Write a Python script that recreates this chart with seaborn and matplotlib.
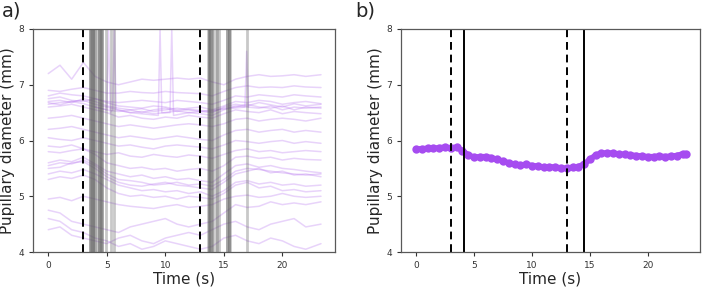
import numpy as np
import pandas as pd
import seaborn as sns
import matplotlib
matplotlib.use("Agg")
import matplotlib.pyplot as plt

# sample times (s) of the individual trials in panel a
time_a = [0, 1, 2, 3, 4, 5, 6, 7, 8, 9, 10, 11, 12, 13, 14, 15, 16, 17, 18, 19, 20, 21, 22, 23.3]

trials = {
    "t1": [6.70, 6.72, 6.68, 6.75, 6.70, 6.62, 6.58, 6.55, 6.57, 6.52, 6.55, 6.58, 6.55, 6.52, 6.50, 6.60, 6.65, 6.62, 6.68, 6.64, 6.60, 6.66, 6.62, 6.65],
    "t2": [6.65, 6.68, 6.70, 6.72, 6.65, 6.60, 6.55, 6.50, 6.52, 6.48, 6.50, 6.53, 6.50, 6.48, 6.45, 6.55, 6.62, 6.60, 6.58, 6.62, 6.55, 6.60, 6.58, 6.60],
    "t3": [6.75, 6.78, 6.72, 6.70, 6.75, 6.68, 6.62, 6.60, 6.58, 6.62, 6.60, 6.55, 6.58, 6.60, 6.55, 6.62, 6.70, 6.68, 6.72, 6.70, 6.65, 6.68, 6.70, 6.66],
    "t4": [6.60, 6.62, 6.65, 6.60, 6.55, 6.50, 6.42, 6.45, 6.40, 6.38, 6.42, 6.40, 6.45, 6.42, 6.40, 6.48, 6.55, 6.52, 6.50, 6.55, 6.48, 6.52, 6.50, 6.48],
    "t5": [6.68, 6.64, 6.70, 6.66, 6.60, 6.55, 6.52, 6.55, 6.50, 6.55, 6.58, 6.52, 6.56, 6.54, 6.52, 6.58, 6.60, 6.65, 6.60, 6.58, 6.62, 6.55, 6.60, 6.58],
    "t6": [7.20, 7.35, 7.10, 7.40, 7.15, 7.05, 7.00, 7.05, 7.10, 7.08, 7.10, 7.12, 7.10, 7.12, 7.05, 7.00, 7.10, 7.15, 7.18, 7.15, 7.16, 7.18, 7.15, 7.18],
    "t7": [6.90, 6.88, 6.92, 6.95, 6.90, 6.85, 6.85, 6.88, 6.86, 6.85, 6.88, 6.86, 6.85, 6.84, 6.80, 6.88, 6.95, 6.98, 6.95, 6.96, 6.95, 6.98, 6.96, 6.95],
    "t8": [6.40, 6.42, 6.45, 6.40, 6.35, 6.30, 6.25, 6.28, 6.25, 6.22, 6.25, 6.28, 6.30, 6.28, 6.25, 6.30, 6.38, 6.40, 6.35, 6.38, 6.40, 6.38, 6.35, 6.40],
    "t9": [6.05, 6.02, 6.00, 6.05, 6.00, 5.95, 5.90, 5.92, 5.88, 5.85, 5.90, 5.92, 5.90, 5.88, 5.85, 5.92, 6.00, 5.98, 5.95, 5.98, 6.00, 5.95, 5.98, 5.95],
    "t10": [5.90, 5.88, 5.92, 5.85, 5.80, 5.75, 5.78, 5.72, 5.70, 5.75, 5.72, 5.70, 5.74, 5.72, 5.68, 5.75, 5.82, 5.85, 5.80, 5.82, 5.78, 5.80, 5.82, 5.80],
    "t11": [5.55, 5.60, 5.58, 5.65, 5.55, 5.40, 5.30, 5.28, 5.25, 5.20, 5.22, 5.25, 5.20, 5.22, 5.18, 5.30, 5.45, 5.50, 5.48, 5.45, 5.42, 5.40, 5.38, 5.40],
    "t12": [5.50, 5.52, 5.60, 5.62, 5.50, 5.35, 5.25, 5.20, 5.18, 5.22, 5.25, 5.20, 5.18, 5.15, 5.12, 5.25, 5.40, 5.45, 5.50, 5.42, 5.45, 5.38, 5.40, 5.35],
    "t13": [5.60, 5.65, 5.62, 5.70, 5.58, 5.45, 5.40, 5.35, 5.38, 5.32, 5.35, 5.30, 5.32, 5.28, 5.25, 5.40, 5.55, 5.58, 5.52, 5.55, 5.50, 5.48, 5.45, 5.42],
    "t14": [5.40, 5.45, 5.42, 5.48, 5.40, 5.30, 5.20, 5.15, 5.10, 5.12, 5.08, 5.10, 5.05, 5.08, 5.00, 5.10, 5.25, 5.28, 5.22, 5.25, 5.20, 5.22, 5.18, 5.20],
    "t15": [5.80, 5.78, 5.82, 5.85, 5.75, 5.60, 5.55, 5.50, 5.52, 5.48, 5.50, 5.45, 5.48, 5.50, 5.45, 5.55, 5.70, 5.72, 5.68, 5.70, 5.65, 5.68, 5.66, 5.65],
    "t16": [4.95, 4.98, 4.92, 5.00, 4.95, 4.90, 4.85, 4.82, 4.80, 4.78, 4.82, 4.85, 4.80, 4.82, 4.85, 4.95, 5.00, 5.02, 4.98, 5.00, 5.05, 5.00, 4.98, 5.00],
    "t17": [4.75, 4.70, 4.55, 4.50, 4.45, 4.40, 4.35, 4.45, 4.50, 4.55, 4.60, 4.50, 4.45, 4.50, 4.55, 4.70, 4.85, 4.80, 4.82, 4.90, 4.85, 4.88, 4.85, 4.90],
    "t18": [4.40, 4.45, 4.30, 4.25, 4.20, 4.15, 4.25, 4.30, 4.20, 4.15, 4.25, 4.30, 4.35, 4.30, 4.40, 4.50, 4.55, 4.45, 4.40, 4.50, 4.55, 4.60, 4.45, 4.50],
    "t19": [4.60, 4.55, 4.40, 4.35, 4.25, 4.20, 4.10, 4.15, 4.05, 4.10, 4.20, 4.15, 4.10, 4.05, 4.10, 4.25, 4.30, 4.20, 4.15, 4.25, 4.20, 4.10, 4.05, 4.15],
    "t20": [5.30, 5.35, 5.32, 5.38, 5.30, 5.15, 5.05, 5.00, 5.02, 4.98, 5.00, 4.95, 5.00, 4.98, 4.95, 5.05, 5.20, 5.25, 5.15, 5.18, 5.10, 5.12, 5.08, 5.10],
    "t21": [6.80, 6.85, 6.82, 6.80, 6.75, 6.70, 6.68, 6.70, 6.72, 6.70, 6.68, 6.72, 6.70, 6.68, 6.65, 6.72, 6.80, 6.78, 6.82, 6.80, 6.78, 6.82, 6.80, 6.78],
    "t22": [6.20, 6.22, 6.25, 6.20, 6.15, 6.10, 6.05, 6.08, 6.05, 6.02, 6.05, 6.08, 6.05, 6.02, 6.00, 6.10, 6.18, 6.20, 6.15, 6.18, 6.20, 6.15, 6.18, 6.15],
}

# one trial with blink artefacts (irregular samples)
spike_time = [4.0, 5.0, 5.15, 5.3, 5.5, 5.65, 5.8, 7.0, 9.4, 9.55, 9.7, 10.4, 10.55, 10.7, 12.0, 16.8, 16.95, 17.1]
spike_vals = [6.60, 6.55, 8.00, 6.50, 6.55, 8.00, 6.55, 6.50, 6.45, 8.00, 6.50, 6.50, 8.00, 6.45, 6.50, 6.60, 7.60, 6.60]

# cue onsets (dashed) and individual response times (grey)
cues = [3, 13]
responses = [3.55, 3.6, 3.65, 3.7, 3.8, 3.85, 3.9, 4.0, 4.2, 4.3, 4.35, 4.4, 4.5, 4.55, 4.6, 4.9, 5.4, 5.65,
             13.65, 13.7, 13.75, 13.85, 13.9, 14.0, 14.1, 14.3, 14.45, 14.6, 15.25, 15.3, 15.4, 15.45, 15.5, 17.0]
mean_responses = [4.1, 14.5]

# grand mean (panel b)
time_b = [0, 0.5, 1, 1.5, 2, 2.5, 3, 3.5, 4, 4.5, 5, 5.5, 6, 6.5, 7, 7.5, 8, 8.5, 9, 9.5, 10, 10.5, 11, 11.5,
          12, 12.5, 13, 13.5, 14, 14.5, 15, 15.5, 16, 16.5, 17, 17.5, 18, 18.5, 19, 19.5, 20, 20.5, 21, 21.5,
          22, 22.5, 23, 23.3]
mean_diam = [5.85, 5.85, 5.86, 5.86, 5.87, 5.88, 5.87, 5.88, 5.82, 5.74, 5.70, 5.71, 5.71, 5.69, 5.66, 5.63,
             5.60, 5.57, 5.56, 5.57, 5.55, 5.54, 5.52, 5.53, 5.52, 5.51, 5.50, 5.52, 5.53, 5.58, 5.66, 5.74,
             5.77, 5.78, 5.77, 5.76, 5.75, 5.74, 5.73, 5.72, 5.71, 5.71, 5.72, 5.71, 5.72, 5.73, 5.76, 5.75]

rows = []
for name, vals in trials.items():
    for t, v in zip(time_a, vals):
        rows.append((name, t, v))
for t, v in zip(spike_time, spike_vals):
    rows.append(("spk", t, v))
df = pd.DataFrame(rows, columns=["trial", "time", "diam"])

sns.set_style("ticks")
plt.rcParams["font.family"] = ["DejaVu Sans"]

fig = plt.figure(figsize=(7.03, 2.9), dpi=100)
ax1 = fig.add_axes([0.047, 0.131, 0.4296, 0.769])
ax2 = fig.add_axes([0.5704, 0.131, 0.4253, 0.769])

sns.lineplot(data=df, x="time", y="diam", units="trial", estimator=None, sort=False,
             color="#b878f0", alpha=0.32, lw=1.1, ax=ax1)
for r in responses:
    ax1.axvline(r, color="0.35", alpha=0.33, lw=2)
for c in cues:
    ax1.axvline(c, color="k", ls=(0, (4, 2.5)), lw=1.4)

sns.lineplot(x=time_b, y=mean_diam, color="#a64cf0", marker="o", markersize=6,
             markeredgewidth=0, lw=4, ax=ax2)
for c in cues:
    ax2.axvline(c, color="k", ls=(0, (4, 2.5)), lw=1.4)
for r in mean_responses:
    ax2.axvline(r, color="k", lw=1.4)

for ax in (ax1, ax2):
    ax.set_ylim(4, 8)
    ax.set_xlim(-1.3, 24.5)
    ax.set_yticks([4, 5, 6, 7, 8])
    ax.set_xticks([0, 5, 10, 15, 20])
    ax.tick_params(labelsize=6.5, length=3, width=0.8, colors="0.2")
    ax.set_xlabel("Time (s)", fontsize=11, labelpad=1)
    ax.set_ylabel("Pupillary diameter (mm)", fontsize=11, labelpad=2)
    for s in ax.spines.values():
        s.set_color("0.35")
        s.set_linewidth(0.9)

fig.text(0.003, 0.995, "a)", fontsize=14, va="top", ha="left")
fig.text(0.506, 0.995, "b)", fontsize=14, va="top", ha="left")

fig.savefig("out.png", dpi=100)
